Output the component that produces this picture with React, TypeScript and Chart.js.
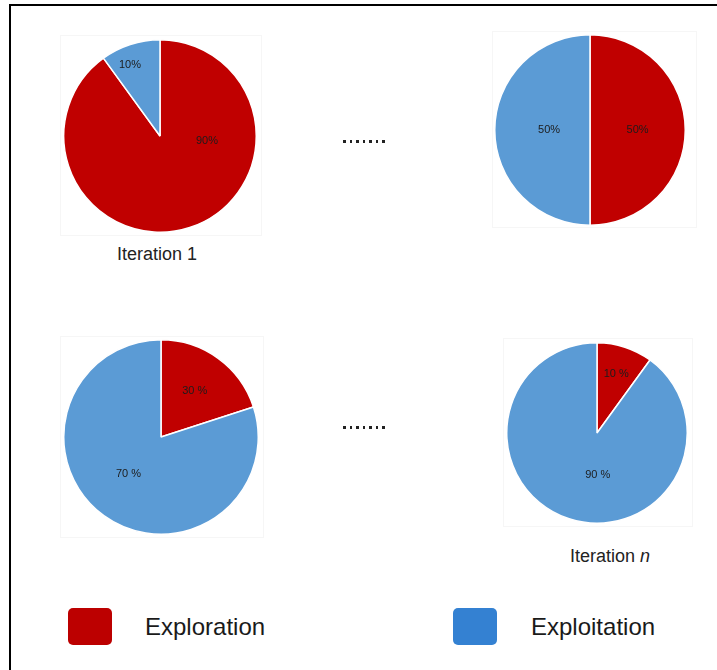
import React, { useEffect, useRef } from "react";
import { Chart, registerables } from "chart.js";

Chart.register(...registerables);

// ---- data ----
const categories = ["Exploration", "Exploitation"];
const iteration1Values = [90, 10];
const iteration1Texts = ["90%", "10%"];
const middleValues = [50, 50];
const middleTexts = ["50%", "50%"];
const laterValues = [20, 80]; // slice proportions as drawn
const laterTexts = ["30 %", "70 %"];
const iterationNValues = [10, 90];
const iterationNTexts = ["10 %", "90 %"];
const captionFirst = "Iteration 1";
const captionLastPrefix = "Iteration ";
const captionLastVar = "n";

const PIE_RED = "#C00000";
const PIE_BLUE = "#5B9BD5";
const LEGEND_RED = "#BC0000";
const LEGEND_BLUE = "#3481D2";
const FONT = '"Liberation Sans", Arial, Helvetica, sans-serif';

const sliceLabels = {
  id: "sliceLabels",
  afterDatasetsDraw(chart: any, _args: any, opts: any) {
    const ctx = chart.ctx;
    const meta = chart.getDatasetMeta(0);
    meta.data.forEach((arc: any, i: number) => {
      const p = arc.getProps(["x", "y", "startAngle", "endAngle", "outerRadius"], true);
      const place = (opts.placement && opts.placement[i]) || {};
      const ang =
        place.angle != null
          ? (place.angle * Math.PI) / 180 - Math.PI / 2
          : (p.startAngle + p.endAngle) / 2;
      const r = (place.radius != null ? place.radius : 0.55) * p.outerRadius;
      ctx.save();
      ctx.font = `11px ${FONT}`;
      ctx.fillStyle = "#1c1c1c";
      ctx.textAlign = "center";
      ctx.textBaseline = "middle";
      ctx.fillText(opts.texts[i], p.x + Math.cos(ang) * r, p.y + Math.sin(ang) * r);
      ctx.restore();
    });
  },
};

type PieProps = {
  values: number[];
  texts: string[];
  placement: { angle?: number; radius?: number }[];
  left: number;
  top: number;
  size: number;
};

function Pie({ values, texts, placement, left, top, size }: PieProps) {
  const ref = useRef<HTMLCanvasElement | null>(null);
  useEffect(() => {
    if (!ref.current) return;
    const chart = new Chart(ref.current, {
      type: "pie",
      data: {
        labels: categories,
        datasets: [
          {
            data: values,
            backgroundColor: [PIE_RED, PIE_BLUE],
            borderColor: "#ffffff",
            borderWidth: 1.5,
          },
        ],
      },
      options: {
        animation: false,
        responsive: false,
        maintainAspectRatio: false,
        devicePixelRatio: 1,
        layout: { padding: 0 },
        plugins: {
          legend: { display: false },
          tooltip: { enabled: false },
          sliceLabels: { texts, placement },
        } as any,
      },
      plugins: [sliceLabels as any],
    });
    return () => chart.destroy();
  }, []);
  return (
    <canvas
      ref={ref}
      width={size}
      height={size}
      style={{ position: "absolute", left, top, width: size, height: size }}
    />
  );
}

function Dots({ left, top }: { left: number; top: number }) {
  const items = [0, 1, 2, 3, 4, 5, 6];
  return (
    <div style={{ position: "absolute", left, top, display: "flex", gap: 4 }}>
      {items.map((i) => (
        <div key={i} style={{ width: 2.5, height: 2.5, background: "#222" }} />
      ))}
    </div>
  );
}

function Box({ l, t, w, h }: { l: number; t: number; w: number; h: number }) {
  return (
    <div
      style={{
        position: "absolute",
        left: l,
        top: t,
        width: w,
        height: h,
        border: "1px solid #f6f6f6",
        boxSizing: "border-box",
      }}
    />
  );
}

export default function App() {
  return (
    <div
      style={{
        position: "fixed",
        left: 0,
        top: 0,
        width: 717,
        height: 670,
        overflow: "hidden",
        background: "#fff",
        fontFamily: FONT,
      }}
    >
      <div
        style={{
          position: "absolute",
          left: 9,
          top: 4,
          width: 760,
          height: 720,
          borderTop: "2px solid #000",
          borderLeft: "2px solid #000",
        }}
      />
      <Box l={60} t={35} w={202} h={201} />
      <Box l={492} t={31} w={205} h={197} />
      <Box l={60} t={336} w={204} h={202} />
      <Box l={503} t={338} w={190} h={189} />

      <Pie
        values={iteration1Values}
        texts={iteration1Texts}
        placement={[{ angle: 96, radius: 0.49 }, { angle: 337, radius: 0.8 }]}
        left={63}
        top={39}
        size={194}
      />
      <Pie
        values={middleValues}
        texts={middleTexts}
        placement={[{ radius: 0.5 }, { radius: 0.43 }]}
        left={494}
        top={34}
        size={192}
      />
      <Pie
        values={laterValues}
        texts={laterTexts}
        placement={[{ radius: 0.59 }, { angle: 221, radius: 0.51 }]}
        left={63}
        top={339}
        size={196}
      />
      <Pie
        values={iterationNValues}
        texts={iterationNTexts}
        placement={[{ radius: 0.69 }, { angle: 179, radius: 0.47 }]}
        left={506}
        top={342}
        size={182}
      />

      <Dots left={343} top={140} />
      <Dots left={343} top={426} />

      <div
        style={{
          position: "absolute",
          left: 57,
          top: 243,
          width: 200,
          textAlign: "center",
          fontSize: 18,
          color: "#222",
          lineHeight: "22px",
        }}
      >
        {captionFirst}
      </div>
      <div
        style={{
          position: "absolute",
          left: 510,
          top: 545,
          width: 200,
          textAlign: "center",
          fontSize: 18,
          color: "#222",
          lineHeight: "22px",
        }}
      >
        {captionLastPrefix}
        <i>{captionLastVar}</i>
      </div>

      <div
        style={{
          position: "absolute",
          left: 68,
          top: 608,
          width: 44,
          height: 37,
          borderRadius: 5,
          background: LEGEND_RED,
        }}
      />
      <div
        style={{
          position: "absolute",
          left: 145,
          top: 612,
          fontSize: 24,
          lineHeight: "30px",
          color: "#1a1a1a",
        }}
      >
        {categories[0]}
      </div>
      <div
        style={{
          position: "absolute",
          left: 453,
          top: 608,
          width: 44,
          height: 37,
          borderRadius: 5,
          background: LEGEND_BLUE,
        }}
      />
      <div
        style={{
          position: "absolute",
          left: 531,
          top: 612,
          fontSize: 24,
          lineHeight: "30px",
          color: "#1a1a1a",
        }}
      >
        {categories[1]}
      </div>
    </div>
  );
}
